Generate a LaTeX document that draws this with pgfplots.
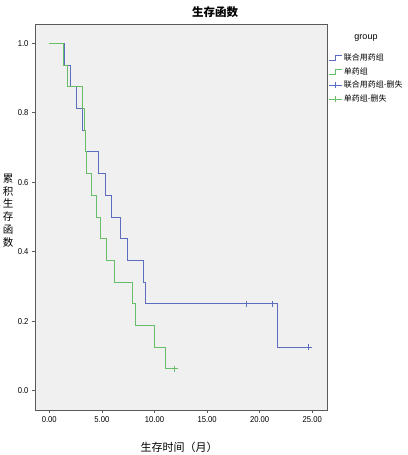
\documentclass[border=0pt]{standalone}
\usepackage{fontspec}
\usepackage{pgfplots}
\pgfplotsset{compat=1.18}
\setmainfont{Liberation Sans}
\newfontfamily\ticksans[FakeStretch=0.9]{Liberation Sans}
\newfontfamily\cjk{Noto Sans CJK SC}

\definecolor{kmblue}{RGB}{92,108,192}
\definecolor{kmgreen}{RGB}{104,190,104}
\definecolor{framegray}{RGB}{90,90,90}
\definecolor{bggray}{RGB}{240,240,240}

\begin{document}
\begin{tikzpicture}
\path[use as bounding box] (0,0) rectangle (407pt,455pt);
\begin{axis}[
    at={(35pt,45pt)}, anchor=south west,
    scale only axis,
    width=292pt, height=386pt,
    xmin=-1.36, xmax=26.4,
    ymin=-0.056, ymax=1.056,
    xtick={0,5,10,15,20,25},
    ytick={0,0.2,0.4,0.6,0.8,1.0},
    xticklabel style={/pgf/number format/fixed, /pgf/number format/fixed zerofill, /pgf/number format/precision=2},
    yticklabel style={/pgf/number format/fixed, /pgf/number format/fixed zerofill, /pgf/number format/precision=1},
    /pgf/number format/assume math mode=true,
    ticklabel style={font=\ticksans\fontsize{8.5}{10}\selectfont},
    tick align=outside, tick pos=left,
    major tick length=3pt,
    axis line style={framegray, line width=0.9pt},
    tick style={framegray, line width=0.8pt},
    axis background/.style={fill=bggray},
    legend style={at={(1.006,0.927)}, anchor=north west, draw=none, fill=none,
        inner sep=0pt, row sep=2.8pt,
        font=\cjk\fontsize{8}{9}\selectfont,
        nodes={inner sep=1pt, text height=7pt, text depth=2pt}},
    legend cell align=left,
]
\addplot[kmblue, line width=0.95pt, const plot,
    legend image code/.code={\draw[kmblue, line width=0.95pt] (0pt,-2.5pt) -- (6pt,-2.5pt) -- (6pt,2.5pt) -- (13pt,2.5pt);}]
    coordinates {(0,1) (1.46,0.9375) (2.06,0.875) (2.63,0.8125) (3.17,0.75) (3.4,0.6875)
    (4.69,0.625) (5.33,0.5625) (5.9,0.5) (6.79,0.4375) (7.39,0.375) (8.94,0.3125)
    (9.13,0.25) (21.71,0.125) (24.66,0.125)};
\addlegendentry{联合用药组}
\addplot[kmgreen, line width=0.95pt, const plot,
    legend image code/.code={\draw[kmgreen, line width=0.95pt] (0pt,-2.5pt) -- (6pt,-2.5pt) -- (6pt,2.5pt) -- (13pt,2.5pt);}]
    coordinates {(0,1) (1.37,0.9375) (1.68,0.875) (3.2,0.8125) (3.3,0.75) (3.4,0.6875)
    (3.55,0.625) (4.0,0.5625) (4.44,0.5) (4.91,0.4375) (5.39,0.375) (6.15,0.3125)
    (7.93,0.25) (8.18,0.1875) (9.98,0.125) (11.09,0.0625) (11.92,0.0625)};
\addlegendentry{单药组}
\addplot[only marks, mark=+, mark size=3pt, kmblue, mark options={line width=0.95pt},
    legend image code/.code={\draw[kmblue, line width=0.95pt] (0pt,0pt) -- (13pt,0pt); \draw[kmblue, line width=0.95pt] (6.5pt,-3pt) -- (6.5pt,3pt);}]
    coordinates {(18.73,0.25) (21.24,0.25) (24.66,0.125)};
\addlegendentry{联合用药组-删失}
\addplot[only marks, mark=+, mark size=3pt, kmgreen, mark options={line width=0.95pt},
    legend image code/.code={\draw[kmgreen, line width=0.95pt] (0pt,0pt) -- (13pt,0pt); \draw[kmgreen, line width=0.95pt] (6.5pt,-3pt) -- (6.5pt,3pt);}]
    coordinates {(11.92,0.0625)};
\addlegendentry{单药组-删失}
\end{axis}
\node[font=\cjk\bfseries\fontsize{11.5}{12}\selectfont] at (215pt,442.5pt) {生存函数};
\node[font=\cjk\fontsize{11}{12}\selectfont] at (179pt,7.5pt) {生存时间（月）};
\node[font=\cjk\fontsize{10.5}{12.7}\selectfont, align=center] at (8pt,244.5pt)
    {累\\积\\生\\存\\函\\数};
\node[font=\fontsize{9}{10}\selectfont] at (366pt,417pt) {group};
\end{tikzpicture}
\end{document}
